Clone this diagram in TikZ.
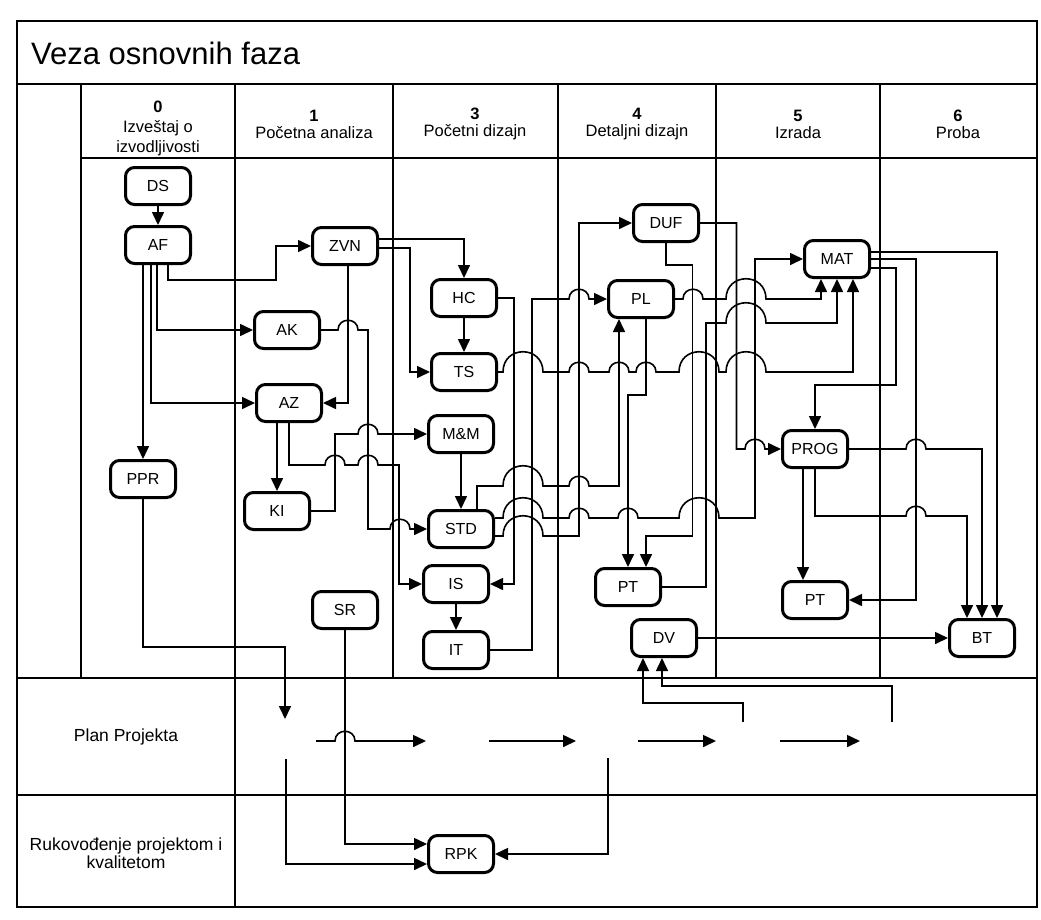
\documentclass[tikz,border=0pt]{standalone}
\usepackage{fontspec}
\setmainfont{Liberation Sans}
\usetikzlibrary{arrows.meta}

\begin{document}
\begin{tikzpicture}[
  wbsbox/.style  = {draw, line width=3pt, rounded corners=9pt, fill=white, minimum width=65pt, minimum height=37pt, inner sep=2pt, font=\fontsize{16}{18}\selectfont},
  wbsgrid/.style = {line width=2.6pt},
  wbslink/.style = {-{Triangle[length=13pt,width=12pt]}, line width=1.6pt},
  wbsjump/.style = {to path={.. controls +(0,-13) and +(0,-13) .. (\tikztotarget)}},
  wbshump/.style = {to path={.. controls +(0,-27) and +(0,-27) .. (\tikztotarget)}},
  wbshead/.style = {align=center, inner sep=0pt, font=\fontsize{16.5}{17}\selectfont},
  wbsrow/.style  = {align=center, inner sep=0pt, font=\fontsize{17.5}{18.5}\selectfont},
  x=1pt, y=-1pt,
]

  \useasboundingbox (0,0) rectangle (1041,919);

  % okvir i trake
  \draw[wbsgrid] (17,21) rectangle (1037,907);
  \draw[wbsgrid] (17,84) -- (1037,84);
  \draw[wbsgrid] (81,158) -- (1037,158);
  \draw[wbsgrid] (17,678) -- (1037,678);
  \draw[wbsgrid] (17,795) -- (1037,795);
  \draw[wbsgrid] (81,84) -- (81,678);
  \draw[wbsgrid] (235,84) -- (235,907);
  \foreach \cx in {393,558,716,880}
    \draw[wbsgrid] (\cx,84) -- (\cx,678);

  \node[anchor=west, inner sep=0pt, font=\fontsize{31}{36}\selectfont] (title) at (31,53) {Veza osnovnih faza};
  \node[wbshead, font=\fontsize{16.5}{20}\selectfont] (h0) at (158,128) {\textbf{0}\\Izveštaj o\\izvodljivosti};
  \node[wbshead] (h1) at (314,124) {\textbf{1}\\Početna analiza};
  \node[wbshead] (h3) at (475,124) {\textbf{3}\\Početni dizajn};
  \node[wbshead] (h4) at (637,124) {\textbf{4}\\Detaljni dizajn};
  \node[wbshead] (h5) at (798,124) {\textbf{5}\\Izrada};
  \node[wbshead] (h6) at (958,124) {\textbf{6}\\Proba};
  \node[wbsrow] (rplan) at (126,737) {Plan Projekta};
  \node[wbsrow] (rrpk)  at (126,853) {Rukovođenje projektom i\\kvalitetom};

  \node[wbsbox] (ds)   at (158,186) {DS};
  \node[wbsbox] (af)   at (158,245) {AF};
  \node[wbsbox] (ppr)  at (143,479) {PPR};
  \node[wbsbox] (zvn)  at (345,246) {ZVN};
  \node[wbsbox] (ak)   at (287,330) {AK};
  \node[wbsbox] (az)   at (289,403) {AZ};
  \node[wbsbox] (ki)   at (277,511) {KI};
  \node[wbsbox] (sr)   at (345,610) {SR};
  \node[wbsbox] (hc)   at (464,298) {HC};
  \node[wbsbox] (ts)   at (464,372) {TS};
  \node[wbsbox] (mm)   at (461,434) {M\&M};
  \node[wbsbox] (std)  at (461,529) {STD};
  \node[wbsbox] (is)   at (456,584) {IS};
  \node[wbsbox] (it)   at (456,650) {IT};
  \node[wbsbox] (duf)  at (666,223) {DUF};
  \node[wbsbox] (pl)   at (641,299) {PL};
  \node[wbsbox] (pt4)  at (628,587) {PT};
  \node[wbsbox] (dv)   at (664,638) {DV};
  \node[wbsbox] (mat)  at (837,259) {MAT};
  \node[wbsbox] (prog) at (815,449) {PROG};
  \node[wbsbox] (pt5)  at (815,600) {PT};
  \node[wbsbox] (bt)   at (982,638) {BT};
  \node[wbsbox] (rpk)  at (461,854) {RPK};

  \coordinate (p0)  at (285,719);
  \coordinate (p1)  at (286,759);
  \coordinate (p2)  at (608,758);
  \coordinate (p3)  at (743,722);
  \coordinate (p4)  at (892,722);
  \coordinate (a1s) at (316,741); \coordinate (a1e) at (426,741);
  \coordinate (a2s) at (489,741); \coordinate (a2e) at (576,741);
  \coordinate (a3s) at (638,741); \coordinate (a3e) at (716,741);
  \coordinate (a4s) at (780,741); \coordinate (a4e) at (860,741);

  % faza 0
  \draw[wbslink] (ds) -- (af);
  \draw[wbslink] (af.south -| ppr.north) -- (ppr.north);
  \draw[wbslink] ([xshift=-7pt]af.south) |- (az.west);
  \draw[wbslink] ([xshift=-1pt]af.south) |- (ak.west);
  \draw[wbslink] ([xshift=10pt]af.south) |- (276,280) |- (zvn.west);
  \draw[wbslink] (ppr.south) |- (285,647) -- (p0);

  % faza 1
  \draw[wbslink] ([yshift=7pt]zvn.east) -| (hc.north);
  \draw[wbslink] ([yshift=-2pt]zvn.east) -- (410,248) |- (ts.west);
  \draw[wbslink] ([xshift=3pt]zvn.south) |- (az.east);
  \draw[wbslink] (ak.east) -- (338,330) to[wbsjump] (358,330) -- (368,330) -- (368,529) -- (390,529) to[wbsjump] (410,529) -- (std.west);
  \draw[wbslink] (az.south -| ki.north) -- (ki.north);
  \draw[wbslink] (az.south) -- (289,465) -- (325,465) to[wbsjump] (345,465) -- (358,465) to[wbsjump] (378,465) -- (399,465) |- (is.west);
  \draw[wbslink] (ki.east) -| (335,434) -- (358,434) to[wbsjump] (378,434) -- (mm.west);

  % faza 3
  \draw[wbslink] (hc) -- (ts);
  \draw[wbslink] (mm) -- (std);
  \draw[wbslink] (is) -- (it);
  \draw[wbslink] (hc.east) -- (514,298) |- (is.east);
  \draw[wbslink] (it.east) -- (532,650) -- (532,299) -- (569,299) to[wbsjump] (589,299) -- (pl.west);
  \draw[wbslink] ([xshift=16pt]std.north) |- (503,486) to[wbshump] (543,486) -- (569,486) to[wbsjump] (589,486) -| ([xshift=-22pt]pl.south);
  \draw[wbslink] ([yshift=11pt]std.east) -- (503,518) to[wbshump] (543,518) -- (569,518) to[wbsjump] (589,518) -- (618,518) to[wbsjump] (638,518) -- (679,518) to[wbshump] (719,518) -- (755,518) |- (mat.west);
  \draw[wbslink] ([yshift=-7pt]std.east) -- (503,536) to[wbshump] (543,536) -- (579,536) |- (duf.west);
  \draw[wbslink] (ts.east) -- (503,372) to[wbshump] (543,372) -- (569,372) to[wbsjump] (589,372) -- (609,372) to[wbsjump] (629,372) -- (636,372) to[wbsjump] (656,372) -- (679,372) to[wbshump] (719,372) -- (726,372) to[wbshump] (766,372) -| ([xshift=16pt]mat.south);

  % faza 4
  \draw[wbslink] (pl.east) -- (683,299) to[wbsjump] (703,299) -- (726,299) to[wbshump] (766,299) -| ([xshift=-16pt]mat.south);
  \draw[wbslink] (pt4.east) -- (706,587) |- (726,323) to[wbshump] (766,323) -| (mat.south);
  \draw[wbslink] ([xshift=5pt]pl.south) |- (628,395) -- (pt4.north);
  \draw[wbslink] (duf.south) |- (692.5,265) -- (692.5,536) -| ([xshift=18pt]pt4.north);
  \draw[wbslink] (duf.east) -- (736.5,223) |- (745,449) to[wbsjump] (765,449) -- (prog.west);
  \draw[wbslink] (dv.east) -- (bt.west);

  % faza 5
  \draw[wbslink] ([yshift=-9pt]mat.east) -| (896,385) -| (prog.north);
  \draw[wbslink] (mat.east) -- (916,259) |- (pt5.east);
  \draw[wbslink] ([yshift=7pt]mat.east) -| ([xshift=15pt]bt.north);
  \draw[wbslink] (prog.east) -- (906,449) to[wbsjump] (926,449) -| (bt.north);
  \draw[wbslink] (prog.south) |- (906,516) to[wbsjump] (926,516) -| ([xshift=-15pt]bt.north);
  \draw[wbslink] ([xshift=-12pt]prog.south) -- ([xshift=-12pt]pt5.north);

  % plan projekta
  \draw[wbslink] (a1s) -- (335,741) to[wbsjump] (355,741) -- (a1e);
  \draw[wbslink] (a2s) -- (a2e);
  \draw[wbslink] (a3s) -- (a3e);
  \draw[wbslink] (a4s) -- (a4e);
  \draw[wbslink] (p1) |- ([yshift=-10pt]rpk.west);
  \draw[wbslink] (sr.south) |- ([yshift=10pt]rpk.west);
  \draw[wbslink] (p2) |- (rpk.east);
  \draw[wbslink] (p3) |- (643,703) -- ([xshift=-21pt]dv.south);
  \draw[wbslink] (p4) |- (662,686) -- ([xshift=-2pt]dv.south);
\end{tikzpicture}
\end{document}
